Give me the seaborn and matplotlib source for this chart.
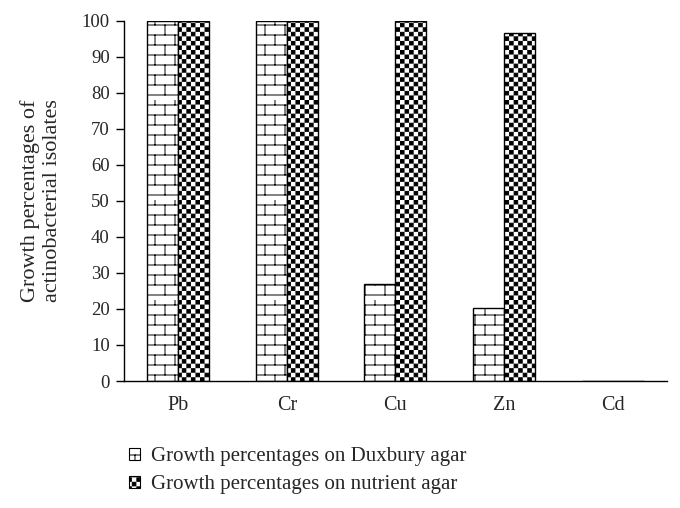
import warnings
warnings.filterwarnings("ignore")
import numpy as np
import pandas as pd
import matplotlib
matplotlib.use("Agg")
import matplotlib.pyplot as plt
import matplotlib.hatch as mhatch
from matplotlib.path import Path
from matplotlib.patches import Patch
import seaborn as sns

metals = ["Pb", "Cr", "Cu", "Zn", "Cd"]
duxbury = [100, 100, 27, 20.3, 0]
nutrient = [100, 100, 100, 96.5, 0]
series_names = ["Growth percentages on Duxbury agar", "Growth percentages on nutrient agar"]
y_ticks = [0, 10, 20, 30, 40, 50, 60, 70, 80, 90, 100]
y_label = "Growth percentages of\nactinobacterial isolates"

HLW = 0.7  # hatch linewidth in points


class CheckerHatch(mhatch.HatchPatternBase):
    N = 22

    def __init__(self, hatch, density):
        n = self.N
        on = "c" in hatch
        self.cells = [(i, j) for i in range(n) for j in range(n) if (i + j) % 2 == 0] if on else []
        self.num_vertices = len(self.cells) * 5

    def set_vertices_and_codes(self, vertices, codes):
        s = 1.0 / self.N
        d = (HLW / 72.0) / 2.0
        for k, (i, j) in enumerate(self.cells):
            x0, y0 = i * s + d, j * s + d
            x1, y1 = (i + 1) * s - d, (j + 1) * s - d
            vertices[5 * k:5 * k + 5] = [(x0, y0), (x1, y0), (x1, y1), (x0, y1), (x0, y0)]
            codes[5 * k] = Path.MOVETO
            codes[5 * k + 1:5 * k + 4] = Path.LINETO
            codes[5 * k + 4] = Path.CLOSEPOLY


class BrickHatch(mhatch.HatchPatternBase):
    R = 10
    B = 5

    def __init__(self, hatch, density):
        on = "b" in hatch
        self.num_vertices = (self.R * 2 + self.R * self.B * 2) if on else 0

    def set_vertices_and_codes(self, vertices, codes):
        R, B = self.R, self.B
        verts = []
        for j in range(R):
            y = (j + 0.5) / R
            verts += [(0.0, y), (1.0, y)]
        for j in range(R):
            y0 = (j + 0.5) / R
            y1 = (j + 1.5) / R
            for k in range(B):
                x = (k + 0.25 + 0.5 * (j % 2)) / B
                verts += [(x, y0), (x, y1)]
        vertices[:] = np.array(verts)
        codes[0::2] = Path.MOVETO
        codes[1::2] = Path.LINETO


mhatch._hatch_types.append(CheckerHatch)
mhatch._hatch_types.append(BrickHatch)

sns.set_theme(style="white")
plt.rcParams["font.family"] = ["Liberation Serif", "DejaVu Serif"]
plt.rcParams["hatch.linewidth"] = HLW
plt.rcParams["hatch.color"] = "black"

df = pd.DataFrame({
    "metal": metals * 2,
    "value": duxbury + nutrient,
    "medium": [series_names[0]] * len(metals) + [series_names[1]] * len(metals),
})

fig = plt.figure(figsize=(6.8, 5.08), dpi=100)
ax = fig.add_axes([0.182, 0.25, 0.799, 0.709])

sns.barplot(data=df, x="metal", y="value", hue="medium", order=metals,
            hue_order=series_names, palette=["white", "white"], width=0.57,
            edgecolor="black", linewidth=1.0, ax=ax, legend=False, saturation=1)

hatches = ["b", "c"]
n = len(metals)
for idx, p in enumerate(ax.patches):
    p.set_hatch(hatches[idx // n])
    p.set_edgecolor("black")

ax.set_xlim(-0.5, 4.5)
ax.set_ylim(0, 100)
ax.set_yticks(y_ticks)
ax.set_xlabel("")
ax.set_ylabel(y_label, fontsize=16, linespacing=1.22, labelpad=14)
ax.tick_params(axis="y", which="both", left=True, length=6, width=1, color="black",
               labelsize=13.5, pad=4, direction="out")
ax.tick_params(axis="x", bottom=False, labelsize=14.5, pad=5)
for s in ["top", "right"]:
    ax.spines[s].set_visible(False)
for s in ["left", "bottom"]:
    ax.spines[s].set_color("black")
    ax.spines[s].set_linewidth(1.0)

handles = [Patch(facecolor="white", edgecolor="black", hatch=h, linewidth=0.8) for h in hatches]
fig.legend(handles, series_names, loc="upper left", bbox_to_anchor=(0.19, 0.12),
           frameon=False, fontsize=15, handlelength=0.5, handleheight=0.5,
           handletextpad=0.55, labelspacing=0.45, borderaxespad=0, borderpad=0)

fig.savefig("out.png", dpi=100, facecolor="white")
